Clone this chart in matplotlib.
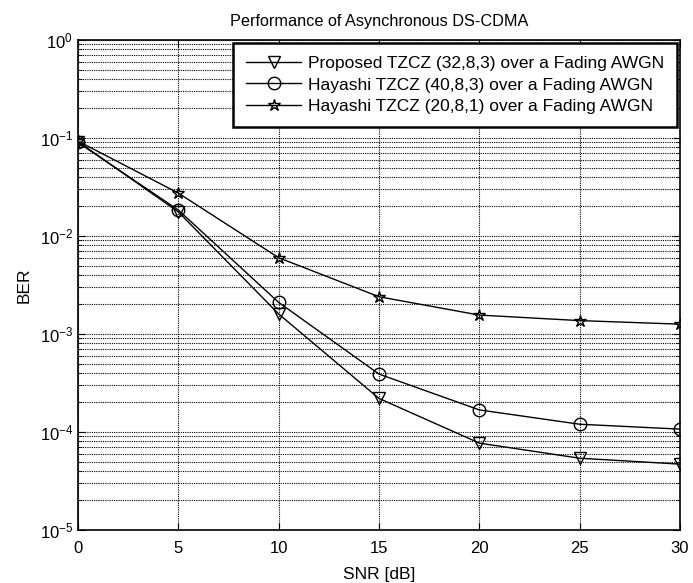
import numpy as np
import matplotlib
matplotlib.use("Agg")
import matplotlib.pyplot as plt
from matplotlib.ticker import LogLocator, NullFormatter, FixedLocator

plt.rcParams['font.family'] = ['Liberation Sans', 'DejaVu Sans']
plt.rcParams['mathtext.fontset'] = 'custom'
plt.rcParams['mathtext.rm'] = 'Liberation Sans'

snr = [0, 5, 10, 15, 20, 25, 30]
ber_proposed = [0.092, 0.0176, 0.0016, 2.2e-4, 7.7e-5, 5.4e-5, 4.7e-5]
ber_hayashi_40 = [0.09, 0.0184, 0.0021, 3.9e-4, 1.68e-4, 1.2e-4, 1.07e-4]
ber_hayashi_20 = [0.093, 0.0274, 0.006, 2.4e-3, 1.56e-3, 1.37e-3, 1.26e-3]

labels = ['Proposed TZCZ (32,8,3) over a Fading AWGN',
          'Hayashi TZCZ (40,8,3) over a Fading AWGN',
          'Hayashi TZCZ (20,8,1) over a Fading AWGN']

fig = plt.figure(figsize=(6.93, 5.83), dpi=100)
ax = fig.add_axes([78/693, 1 - 530/583, 602/693, 490/583])

ax.semilogy(snr, ber_proposed, 'k-', marker='v', mfc='none', ms=9, lw=1, label=labels[0])
ax.semilogy(snr, ber_hayashi_40, 'k-', marker='o', mfc='none', ms=9, lw=1, label=labels[1])
ax.semilogy(snr, ber_hayashi_20, 'k-', marker='*', mfc='none', ms=9, lw=1, label=labels[2])

ax.set_xlim(0, 30)
ax.set_ylim(1e-5, 1)
ax.xaxis.set_major_locator(FixedLocator([0, 5, 10, 15, 20, 25, 30]))
ax.yaxis.set_major_locator(LogLocator(base=10, numticks=10))
ax.yaxis.set_minor_locator(LogLocator(base=10, subs=np.arange(2, 10), numticks=20))
ax.yaxis.set_minor_formatter(NullFormatter())

grid_style = dict(color='k', linestyle=(0, (1, 1)), lw=0.8)
ax.grid(True, which='major', **grid_style)
ax.grid(True, which='minor', axis='y', **grid_style)
ax.tick_params(which='both', direction='in', top=True, right=True, labelsize=12)
ax.tick_params(which='major', length=5)
ax.tick_params(which='minor', length=3)
ax.tick_params(axis='x', pad=8)
for s in ax.spines.values():
    s.set_linewidth(1.2)

ax.set_xlabel('SNR [dB]', fontsize=12.5, labelpad=8)
ax.set_ylabel('BER', fontsize=12.5, labelpad=6)
ax.set_title('Performance of Asynchronous DS-CDMA', fontsize=11.7, pad=10)

leg = ax.legend(loc='upper right', fontsize=12.5, fancybox=False, framealpha=1,
                edgecolor='k', borderaxespad=0.15, handlelength=3.2,
                labelspacing=0.38, borderpad=0.75, handletextpad=0.4)
leg.get_frame().set_linewidth(1.8)

fig.savefig('out.png', dpi=100)
